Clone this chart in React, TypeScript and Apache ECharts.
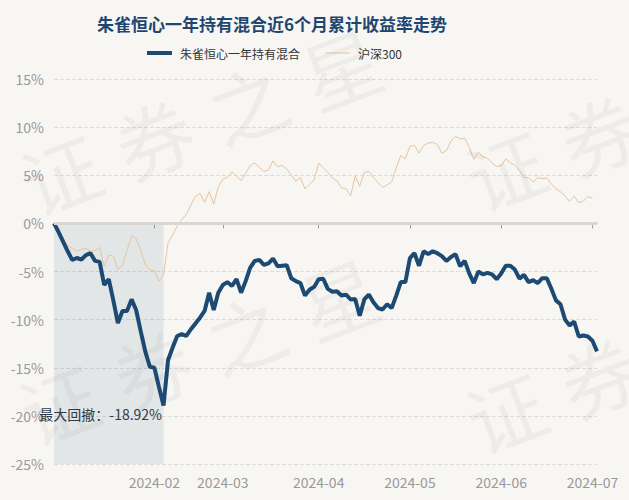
import React, { useEffect, useRef } from 'react';
import * as echarts from 'echarts';

const TITLE = '朱雀恒心一年持有混合近6个月累计收益率走势';
const FUND_NAME = '朱雀恒心一年持有混合';
const INDEX_NAME = '沪深300';
const WATERMARK = '证券之星';

// market closures (weekdays) in the period
const HOLIDAYS = [
  '2024-02-09', '2024-02-12', '2024-02-13', '2024-02-14', '2024-02-15', '2024-02-16',
  '2024-04-04', '2024-04-05', '2024-05-01', '2024-05-02', '2024-05-03',
];
const START_DATE = '2024-01-02';
const END_DATE = '2024-07-02';

// cumulative return, %
const fundValues = [
  0, -0.9, -1.9, -2.9, -3.8, -3.6, -3.75, -3.3, -3.1, -3.9,
  -4.0, -6.4, -5.8, -8.0, -10.35, -9.1, -9.1, -7.9, -9.0, -11.2,
  -13.3, -14.9, -15.0, -17.0, -18.92, -14.2, -12.9, -11.7, -11.5, -11.7,
  -11.0, -10.4, -9.8, -9.1, -7.2, -9.0, -7.2, -6.4, -6.1, -6.5,
  -5.8, -7.2, -6.0, -4.6, -3.9, -3.8, -4.3, -4.15, -3.65, -4.45,
  -4.4, -4.35, -5.7, -6.0, -6.2, -7.5, -6.9, -6.6, -5.8, -5.75,
  -6.8, -7.1, -7.05, -7.5, -7.4, -7.9, -7.85, -9.6, -7.9, -7.4,
  -8.2, -8.8, -8.95, -8.4, -8.8, -7.5, -6.1, -6.1, -3.6, -3.1,
  -4.4, -2.9, -3.2, -2.9, -3.1, -3.4, -3.9, -3.5, -3.2, -4.45,
  -3.9, -5.2, -6.2, -5.0, -5.3, -5.15, -5.3, -5.8, -5.2, -4.4,
  -4.4, -4.8, -5.75, -5.35, -6.1, -5.9, -6.2, -5.7, -5.7, -6.8,
  -8.0, -8.4, -10.0, -10.6, -10.2, -11.75, -11.65, -11.75, -12.2, -13.3,
];

const indexValues = [
  0, -0.9, -1.6, -2.3, -2.6, -2.9, -2.7, -2.6, -2.9, -2.8,
  -2.5, -4.5, -3.3, -3.4, -4.8, -4.4, -2.8, -1.3, -1.6, -2.8,
  -4.3, -4.8, -4.95, -6.0, -5.4, -2.0, -1.2, -0.3, 0.4, 0.95,
  1.9, 2.8, 3.1, 2.2, 3.3, 2.0, 3.8, 4.6, 4.8, 5.35,
  4.9, 4.45, 5.2, 6.0, 6.3, 5.8, 5.4, 5.55, 6.5, 5.9,
  6.0, 5.65, 5.0, 4.4, 4.75, 3.6, 4.05, 4.5, 6.25, 5.8,
  5.3, 4.7, 4.45, 3.7, 3.6, 2.85, 4.9, 3.85, 5.3, 5.4,
  4.75, 4.25, 3.75, 4.0, 4.3, 5.8, 7.05, 6.7, 8.0, 8.1,
  7.3, 8.1, 8.35, 8.4, 8.2, 7.3, 7.55, 8.55, 9.05, 8.75,
  8.85, 7.9, 6.65, 7.4, 6.9, 6.75, 6.3, 5.9, 6.0, 6.7,
  6.3, 6.05, 5.5, 4.75, 4.75, 4.3, 4.75, 4.65, 4.7, 4.1,
  3.6, 3.3, 2.85, 2.3, 2.85, 2.15, 2.3, 2.8, 2.6, null,
];

const Y_MIN = -25;
const Y_MAX = 15;
const Y_STEP = 5;

function buildDates(): string[] {
  const out: string[] = [];
  const [sy, sm, sd] = START_DATE.split('-').map(Number);
  const [ey, em, ed] = END_DATE.split('-').map(Number);
  let t = Date.UTC(sy, sm - 1, sd);
  const end = Date.UTC(ey, em - 1, ed);
  while (t <= end) {
    const d = new Date(t);
    const wd = d.getUTCDay();
    const s = d.toISOString().slice(0, 10);
    if (wd !== 0 && wd !== 6 && HOLIDAYS.indexOf(s) < 0) out.push(s);
    t += 86400000;
  }
  return out;
}

const FONT = "'Noto Sans CJK SC', 'Noto Sans', sans-serif";

export default function App() {
  const ref = useRef<HTMLDivElement>(null);

  useEffect(() => {
    if (!ref.current) return;
    const chart = echarts.init(ref.current, undefined, { renderer: 'svg' });
    const dates = buildDates();
    const isMonthStart = (i: number) =>
      i > 0 && i < dates.length && dates[i].slice(5, 7) !== dates[i - 1].slice(5, 7);

    const minVal = Math.min(...fundValues);
    const minIdx = fundValues.indexOf(minVal);
    const peakVal = Math.max(...fundValues.slice(0, minIdx + 1));
    const peakIdx = fundValues.indexOf(peakVal);

    // watermark: characters laid along a tilted line
    const ANG = 0.36;
    const STEP = 100;
    const wmRow = (x0: number, y0: number, count: number) =>
      WATERMARK.split('').slice(0, count).map((ch, k) => ({
        type: 'text',
        x: x0 + k * STEP * Math.cos(ANG),
        y: y0 - k * STEP * Math.sin(ANG),
        rotation: ANG,
        silent: true,
        z: 100,
        style: {
          text: ch,
          fontSize: 78,
          fontFamily: FONT,
          fill: 'rgba(0,0,0,0.04)',
          align: 'center',
          verticalAlign: 'middle',
        },
      }));

    chart.setOption({
      animation: false,
      backgroundColor: '#f8f6f3',
      textStyle: { fontFamily: FONT },
      title: {
        text: TITLE,
        left: 92,
        top: 10,
        textStyle: { fontSize: 17, fontWeight: 'bold', color: '#1f4670', fontFamily: FONT },
      },
      legend: {
        data: [
          { name: FUND_NAME, icon: 'rect' },
          { name: INDEX_NAME, icon: 'path://M0,0H25V1H0Z' },
        ],
        left: 142,
        top: 42,
        itemWidth: 25,
        itemHeight: 4,
        itemGap: 25,
        textStyle: { fontSize: 12, color: '#333', fontFamily: FONT, padding: [0, 0, 0, 3] },
      },
      grid: { left: 54, right: 32, top: 79, bottom: 36, containLabel: false },
      xAxis: {
        type: 'category',
        boundaryGap: false,
        data: dates,
        axisLine: { lineStyle: { color: '#999', width: 1 } },
        axisTick: { interval: (i: number) => isMonthStart(i), length: 5, lineStyle: { color: '#999' } },
        axisLabel: {
          interval: (i: number) => isMonthStart(i),
          formatter: (v: string) => v.slice(0, 7),
          color: '#999',
          fontSize: 14,
          margin: 11,
          fontFamily: FONT,
        },
        splitLine: { show: false },
      },
      yAxis: {
        type: 'value',
        min: Y_MIN,
        max: Y_MAX,
        interval: Y_STEP,
        axisLine: { show: false },
        axisTick: { show: false },
        axisLabel: { formatter: '{value}%', color: '#999', fontSize: 14, margin: 10, fontFamily: FONT },
        splitLine: { lineStyle: { type: 'dashed', color: '#dcdcdc', width: 1 } },
      },
      graphic: [
        ...wmRow(60, 172, 4),
        ...wmRow(505, 168, 2),
        ...wmRow(58, 402, 4),
        ...wmRow(505, 410, 2),
      ],
      series: [
        {
          name: INDEX_NAME,
          type: 'line',
          data: indexValues,
          symbol: 'none',
          z: 2,
          lineStyle: { color: '#e8c39c', width: 1 },
          itemStyle: { color: '#e8c39c' },
        },
        {
          name: FUND_NAME,
          type: 'line',
          data: fundValues,
          symbol: 'none',
          z: 3,
          lineStyle: { color: '#1d4a73', width: 4 },
          itemStyle: { color: '#1d4a73' },
          markArea: {
            silent: true,
            itemStyle: { color: 'rgba(50,85,120,0.1)' },
            data: [[{ coord: [dates[peakIdx], peakVal] }, { coord: [dates[minIdx], Y_MIN] }]],
          },
          markLine: {
            silent: true,
            symbol: ['none', 'none'],
            label: { show: false },
            lineStyle: { type: 'solid', color: '#dcd6d0', width: 3 },
            data: [{ yAxis: 0 }],
          },
          markPoint: {
            silent: true,
            symbol: 'circle',
            symbolSize: 1,
            itemStyle: { color: 'rgba(0,0,0,0)' },
            label: {
              show: true,
              position: 'left',
              distance: 1,
              offset: [0, 9],
              formatter: `最大回撤：${minVal}%`,
              color: '#2e3b4a',
              fontSize: 14,
              fontFamily: FONT,
            },
            data: [{ coord: [dates[minIdx], minVal] }],
          },
        },
      ],
    });

    return () => chart.dispose();
  }, []);

  return (
    <div
      ref={ref}
      style={{ position: 'fixed', left: 0, top: 0, width: 629, height: 500 }}
    />
  );
}
